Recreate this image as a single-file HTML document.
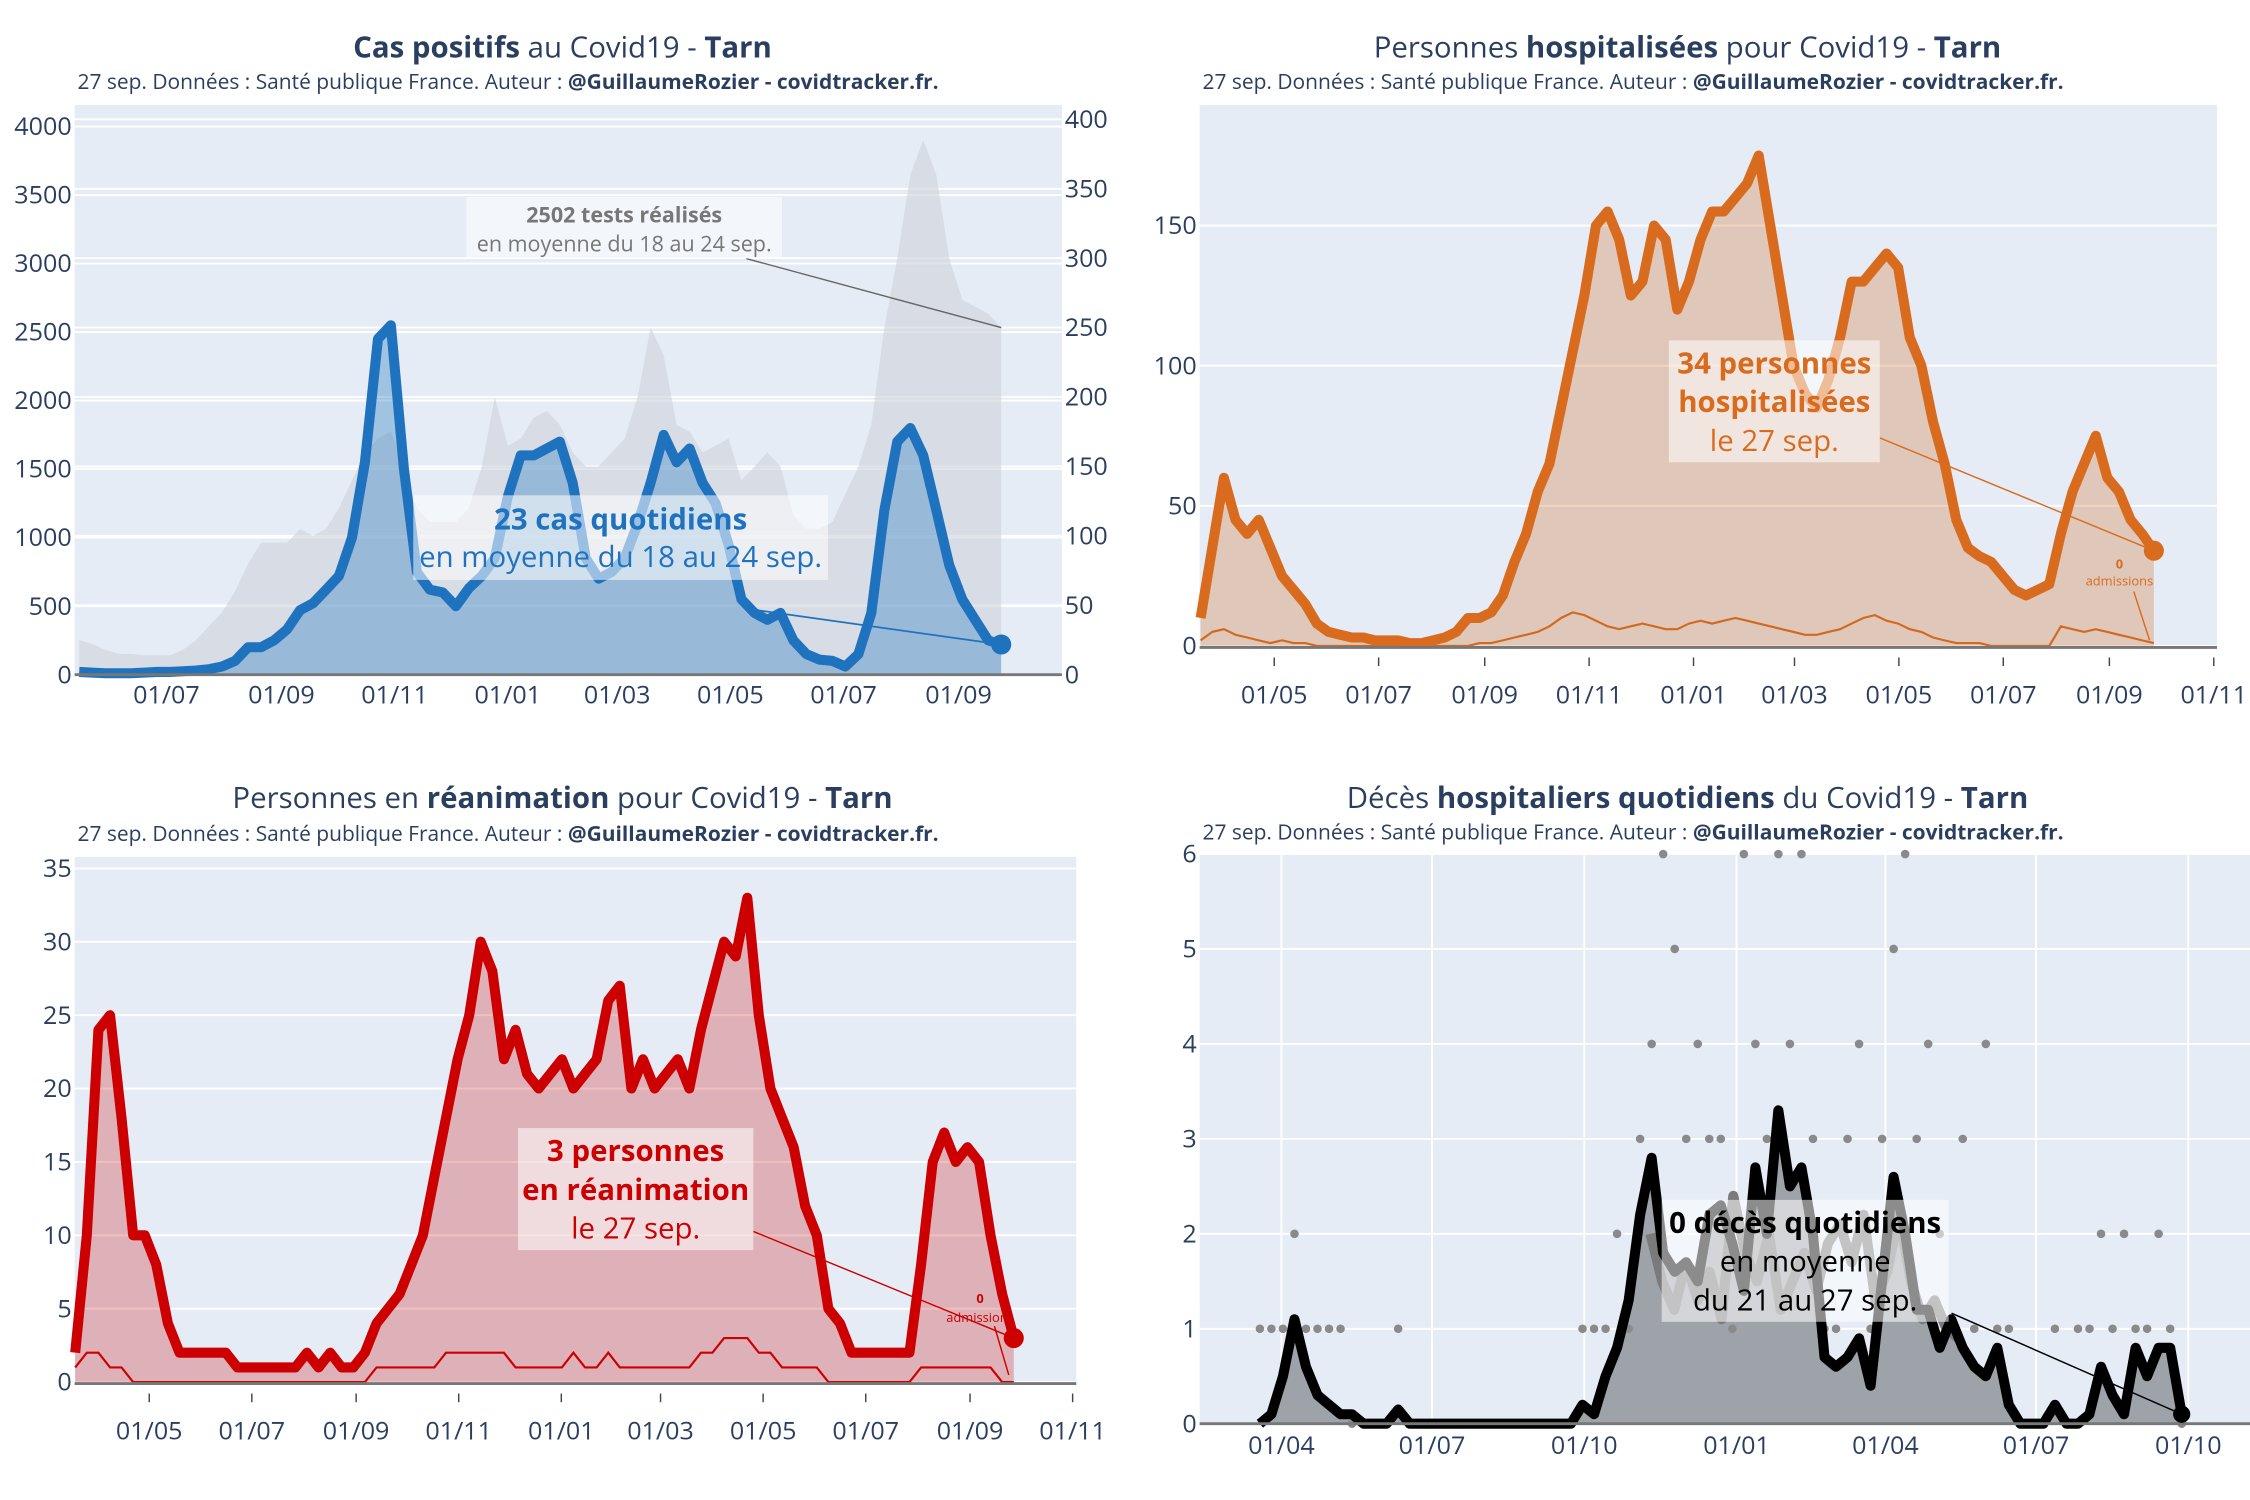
<!DOCTYPE html>
<html><head><meta charset="utf-8">
<style>
html,body{margin:0;padding:0;background:#fff;}
svg{display:block;font-family:"Open Sans","Liberation Sans","DejaVu Sans",sans-serif;}
.tk{fill:#2a3f5f;font-size:17.5px;}
.tt{fill:#2a3f5f;font-size:20.5px;}
.st{fill:#2a3f5f;font-size:14.6px;}
</style></head>
<body>
<svg id="root" width="2250" height="1500" viewBox="0 0 1568 1045" xmlns="http://www.w3.org/2000/svg"></svg>
<script>
// ---------- DATA ----------
// Chart 1: positive cases (weekly samples 2020-05-15 .. 2021-09-24)
const casesStart = "2020-05-15", casesEnd = "2021-09-24";
const casesValues = [20,15,10,10,10,15,20,20,25,30,40,60,100,200,200,250,330,470,520,620,720,1000,1550,2450,2550,1500,750,620,600,500,630,720,850,1300,1600,1600,1650,1700,1400,850,700,750,850,1100,1400,1750,1550,1650,1400,1250,950,550,450,400,450,250,150,110,100,60,150,450,1200,1700,1800,1600,1200,800,550,400,250,220];
const testsValues = [25,22,18,15,15,14,14,14,18,25,35,45,60,80,95,95,95,105,100,105,120,140,160,170,175,150,120,110,110,110,120,150,200,165,170,185,190,180,160,150,150,160,170,200,250,230,180,175,160,165,170,140,150,160,150,115,105,105,110,130,150,180,250,300,360,385,360,300,270,265,260,250];
const casesTicksLeft = [0,500,1000,1500,2000,2500,3000,3500,4000];
const casesTicksRight = [0,50,100,150,200,250,300,350,400];
const casesDateTicks = ["2020-07-01","2020-09-01","2020-11-01","2021-01-01","2021-03-01","2021-05-01","2021-07-01","2021-09-01"];
// Chart 2: hospitalised
const hospStart = "2020-03-19", hospEnd = "2021-09-27";
const hospValues = [10,35,60,45,40,45,35,25,20,15,8,5,4,3,3,2,2,2,1,1,2,3,5,10,10,12,18,30,40,55,65,85,105,125,150,155,145,125,130,150,145,120,130,145,155,155,160,165,175,150,125,100,90,85,95,110,130,130,135,140,135,110,100,80,65,45,35,32,30,25,20,18,20,22,40,55,65,75,60,55,45,40,34];
const hospAdmissions = [2,5,6,4,3,2,1,2,1,1,0,0,0,0,0,0,0,0,0,0,0,0,0,0,1,1,2,3,4,5,7,10,12,11,9,7,6,7,8,7,6,6,8,9,8,9,10,9,8,7,6,5,4,4,5,6,8,10,11,9,8,6,5,3,2,1,1,1,0,0,0,0,0,0,7,6,5,6,5,4,3,2,1];
const hospTicksY = [0,50,100,150];
const hospDateTicks = ["2020-05-01","2020-07-01","2020-09-01","2020-11-01","2021-01-01","2021-03-01","2021-05-01","2021-07-01","2021-09-01","2021-11-01"];
// Chart 3: ICU
const reaStart = "2020-03-18", reaEnd = "2021-09-27";
const reaValues = [2,10,24,25,18,10,10,8,4,2,2,2,2,2,1,1,1,1,1,1,2,1,2,1,1,2,4,5,6,8,10,14,18,22,25,30,28,22,24,21,20,21,22,20,21,22,26,27,20,22,20,21,22,20,24,27,30,29,33,25,20,18,16,12,10,5,4,2,2,2,2,2,2,8,15,17,15,16,15,10,6,3];
const reaAdmissions = [1,2,2,1,1,0,0,0,0,0,0,0,0,0,0,0,0,0,0,0,0,0,0,0,0,0,1,1,1,1,1,1,2,2,2,2,2,2,1,1,1,1,1,2,1,1,2,1,1,1,1,1,1,1,2,2,3,3,3,2,2,1,1,1,1,0,0,0,0,0,0,0,0,1,1,1,1,1,1,1,0,0];
const reaTicksY = [0,5,10,15,20,25,30,35];
const reaDateTicks = ["2020-05-01","2020-07-01","2020-09-01","2020-11-01","2021-01-01","2021-03-01","2021-05-01","2021-07-01","2021-09-01","2021-11-01"];
// Chart 4: deaths
const decStart = "2020-03-19", decEnd = "2021-09-27";
const decAvg = [0,0.1,0.5,1.1,0.6,0.3,0.2,0.1,0.1,0,0,0,0.15,0,0,0,0,0,0,0,0,0,0,0,0,0,0,0,0.2,0.1,0.5,0.8,1.3,2.2,2.8,1.8,1.6,1.7,1.5,2.2,2.3,1.9,1.4,2.7,2.0,3.3,2.5,2.7,2.0,0.7,0.6,0.7,0.9,0.4,1.5,2.6,2.0,1.2,1.2,0.8,1.1,0.8,0.6,0.5,0.8,0.2,0,0,0,0.2,0,0,0.1,0.6,0.3,0.1,0.8,0.5,0.8,0.8,0.1];
const decDaily = [1,1,1,2,1,1,1,1,0,0,0,0,1,0,0,0,0,0,0,0,0,0,0,0,0,0,0,0,1,1,1,2,1,3,4,6,5,3,4,3,3,1,6,4,3,6,4,6,3,1,1,3,4,1,3,5,6,3,4,2,1,3,1,4,1,1,0,0,0,1,0,1,1,2,1,2,1,1,2,1,0];
const decGreyStart = "2020-11-10", decGreyEnd = "2021-05-15";
const decGreyValues = [2,1.5,1.2,1.7,1.3,1.6,1.1,2.4,1.8,1.5,2.0,1.2,1.5,1.8,1.4,1.9,2.1,1.7,2.2,1.3,1.6,2.2,1.5,1.1,1.3,1.0,0.9];
const decTicksY = [0,1,2,3,4,5,6];
const decDateTicks = ["2020-04-01","2020-07-01","2020-10-01","2021-01-01","2021-04-01","2021-07-01","2021-10-01"];

// ---------- HELPERS ----------
const NS = "http://www.w3.org/2000/svg";
const root = document.getElementById("root");
function el(tag, attrs, parent, text){
  const e = document.createElementNS(NS, tag);
  for (const k in attrs) e.setAttribute(k, attrs[k]);
  if (text !== undefined) e.textContent = text;
  (parent || root).appendChild(e);
  return e;
}
function day(s){ return Date.parse(s + "T00:00:00Z") / 86400000; }
function fmtTick(s){ return s.slice(8,10) + "/" + s.slice(5,7); }
function xScale(refA, xA, refB, xB){
  const a = day(refA), b = day(refB);
  return d => xA + (d - a) * (xB - xA) / (b - a);
}
function yScale(v0, y0, v1, y1){ return v => y0 + (v - v0) * (y1 - y0) / (v1 - v0); }
function seriesPts(start, end, vals, X, Y){
  const a = day(start), b = day(end), n = vals.length;
  return vals.map((v, i) => [X(a + (b - a) * i / (n - 1)), Y(v)]);
}
function ptsStr(p){ return p.map(q => q[0].toFixed(1) + "," + q[1].toFixed(1)).join(" "); }
function areaStr(p, yb){ return ptsStr(p) + " " + p[p.length-1][0].toFixed(1) + "," + yb + " " + p[0][0].toFixed(1) + "," + yb; }
function title(cx, y, parts, g){
  const t = el("text", {x: cx, y: y, "text-anchor": "middle", class: "tt"}, g);
  
  
  parts.forEach(p => { el("tspan", p[1] ? {"font-weight": "bold"} : {}, t, p[0]); });
}
function subtitle(x, y, g){
  const t = el("text", {x: x, y: y, class: "st"}, g);
  
  
  el("tspan", {}, t, "27 sep. Données : Santé publique France. Auteur : ");
  el("tspan", {"font-weight": "bold"}, t, "@GuillaumeRozier - covidtracker.fr.");
}
function plotBg(x0, y0, x1, y1, g){
  const r = el("rect", {x: x0, y: y0, width: x1 - x0, height: y1 - y0, fill: "#e5ecf6"}, g);
  
  
}
function yGrid(ticks, Y, x0, x1, labelX, anchor, g, drawLine){
  ticks.forEach(v => {
    if (drawLine) el("line", {x1: x0, x2: x1, y1: Y(v), y2: Y(v), stroke: "#fff", "stroke-width": 1.3}, g);
    const t = el("text", {x: labelX, y: Y(v) + 6, "text-anchor": anchor, class: "tk"}, g, String(v));
    
    
  });
}
function xTicks(ticks, X, y, g, vgrid, gy0, gy1, tickMark){
  ticks.forEach(s => {
    const x = X(day(s));
    if (vgrid) el("line", {x1: x, x2: x, y1: gy0, y2: gy1, stroke: "#fff", "stroke-width": 1.3}, g);
    if (tickMark) el("line", {x1: x, x2: x, y1: tickMark[0], y2: tickMark[1], stroke: "#444", "stroke-width": 1}, g);
    const t = el("text", {x: x, y: y, "text-anchor": "middle", class: "tk"}, g, fmtTick(s));
    
    
  });
}
function annot(x, y, w, h, lines, color, g){
  const r = el("rect", {x: x, y: y, width: w, height: h, fill: "#fff", "fill-opacity": 0.55}, g);
  
  
  lines.forEach(l => {
    const t = el("text", {x: x + w/2, y: y + l[2], "text-anchor": "middle", fill: color, "font-size": l[3] || 20, "font-weight": l[1] ? "bold" : "normal"}, g, l[0]);
    
    
  });
}

// ---------- CHART 1 ----------
{
  const g = el("g", {});
  
  
  title(392, 40, [["Cas positifs", 1], [" au Covid19 - ", 0], ["Tarn", 1]], g);
  subtitle(54, 62, g);
  plotBg(52, 73, 740, 470, g);
  const X = xScale("2020-07-01", 116, "2021-09-01", 668);
  const Y = yScale(0, 470, 4000, 88);
  const Yr = yScale(0, 470, 400, 83);
  yGrid(casesTicksLeft, Y, 52, 740, 50, "end", g, true);
  casesTicksRight.forEach(v => el("line", {x1: 52, x2: 740, y1: Yr(v), y2: Yr(v), stroke: "#fff", "stroke-width": 1.3}, g));
  yGrid(casesTicksRight, Yr, 52, 740, 742, "start", g, false);
  const tp = seriesPts(casesStart, casesEnd, testsValues, X, Yr);
  const ta = el("polygon", {points: areaStr(tp, 470), fill: "#cdd2da", "fill-opacity": 0.6}, g);
  
  
  const cp = seriesPts(casesStart, casesEnd, casesValues, X, Y);
  const ca = el("polygon", {points: areaStr(cp, 470), fill: "#3a86c6", "fill-opacity": 0.4}, g);
  
  
  const cl = el("polyline", {points: ptsStr(cp), fill: "none", stroke: "#1f72be", "stroke-width": 7, "stroke-linejoin": "round"}, g);
  
  
  el("line", {x1: 52, x2: 740, y1: 470, y2: 470, stroke: "#777", "stroke-width": 2}, g);
  xTicks(casesDateTicks, X, 490, g, false);
  const last = cp[cp.length - 1];
  el("line", {x1: 520, y1: 180, x2: tp[tp.length-1][0], y2: tp[tp.length-1][1], stroke: "#666", "stroke-width": 1}, g);
  annot(325, 137, 220, 43, [["2502 tests réalisés", 1, 18, 15], ["en moyenne du 18 au 24 sep.", 0, 38, 15]], "#777", g);
  el("line", {x1: 520, y1: 424, x2: last[0], y2: last[1], stroke: "#1f72be", "stroke-width": 1.2}, g);
  annot(288, 345, 289, 59, [["23 cas quotidiens", 1, 24, 20.5], ["en moyenne du 18 au 24 sep.", 0, 50, 20.5]], "#1f72be", g);
  const m = el("circle", {cx: last[0], cy: last[1], r: 7, fill: "#1f72be"}, g);
  
  
}

// ---------- CHART 2 ----------
{
  const g = el("g", {});
  
  
  title(1176, 40, [["Personnes ", 0], ["hospitalisées", 1], [" pour Covid19 - ", 0], ["Tarn", 1]], g);
  subtitle(838, 62, g);
  plotBg(836, 73, 1545, 452, g);
  const X = xScale("2020-05-01", 888, "2021-09-01", 1470);
  const Y = yScale(0, 450, 150, 157);
  yGrid(hospTicksY, Y, 836, 1545, 834, "end", g, true);
  const hp = seriesPts(hospStart, hospEnd, hospValues, X, Y);
  const ha = el("polygon", {points: areaStr(hp, 450), fill: "#d2691e", "fill-opacity": 0.28}, g);
  
  
  const ap = seriesPts(hospStart, hospEnd, hospAdmissions, X, Y);
  const al = el("polyline", {points: ptsStr(ap), fill: "none", stroke: "#d2691e", "stroke-width": 1.5}, g);
  
  
  const hl = el("polyline", {points: ptsStr(hp), fill: "none", stroke: "#d96b1e", "stroke-width": 7, "stroke-linejoin": "round"}, g);
  
  
  el("line", {x1: 836, x2: 1545, y1: 451, y2: 451, stroke: "#777", "stroke-width": 2}, g);
  xTicks(hospDateTicks, X, 490, g, false, 0, 0, [458, 464]);
  const last = hp[hp.length - 1];
  el("line", {x1: 1310, y1: 305, x2: last[0], y2: last[1], stroke: "#d96b1e", "stroke-width": 1}, g);
  el("line", {x1: 1487, y1: 412, x2: 1498, y2: 446, stroke: "#d96b1e", "stroke-width": 1}, g);
  annot(1163, 237, 147, 85, [["34 personnes", 1, 23, 20.5], ["hospitalisées", 1, 50, 20.5], ["le 27 sep.", 0, 77, 20.5]], "#d96b1e", g);
  const a1 = el("text", {x: 1477, y: 396, "text-anchor": "middle", fill: "#d96b1e", "font-size": 9, "font-weight": "bold"}, g, "0");
  
  
  const a2 = el("text", {x: 1477, y: 408, "text-anchor": "middle", fill: "#d96b1e", "font-size": 9}, g, "admissions");
  
  
  const m = el("circle", {cx: last[0], cy: last[1], r: 7, fill: "#d96b1e"}, g);
  
  
}

// ---------- CHART 3 ----------
{
  const g = el("g", {});
  
  
  title(392, 563, [["Personnes en ", 0], ["réanimation", 1], [" pour Covid19 - ", 0], ["Tarn", 1]], g);
  subtitle(54, 586, g);
  plotBg(52, 597, 750, 964, g);
  const X = xScale("2020-05-01", 104, "2021-09-01", 676);
  const Y = yScale(0, 963, 35, 605);
  yGrid(reaTicksY, Y, 52, 750, 50, "end", g, true);
  const rp = seriesPts(reaStart, reaEnd, reaValues, X, Y);
  const ra = el("polygon", {points: areaStr(rp, 963), fill: "#cc0000", "fill-opacity": 0.25}, g);
  
  
  const ap = seriesPts(reaStart, reaEnd, reaAdmissions, X, Y);
  const al = el("polyline", {points: ptsStr(ap), fill: "none", stroke: "#cc0000", "stroke-width": 1.5}, g);
  
  
  const rl = el("polyline", {points: ptsStr(rp), fill: "none", stroke: "#cc0000", "stroke-width": 7, "stroke-linejoin": "round"}, g);
  
  
  el("line", {x1: 52, x2: 750, y1: 964, y2: 964, stroke: "#777", "stroke-width": 2}, g);
  xTicks(reaDateTicks, X, 1003, g, false, 0, 0, [971, 977]);
  const last = rp[rp.length - 1];
  el("line", {x1: 525, y1: 858, x2: last[0], y2: last[1], stroke: "#cc0000", "stroke-width": 1}, g);
  el("line", {x1: 693, y1: 924, x2: 703, y2: 958, stroke: "#cc0000", "stroke-width": 1}, g);
  annot(361, 786, 164, 85, [["3 personnes", 1, 23, 20.5], ["en réanimation", 1, 50, 20.5], ["le 27 sep.", 0, 77, 20.5]], "#cc0000", g);
  const a1 = el("text", {x: 683, y: 908, "text-anchor": "middle", fill: "#cc0000", "font-size": 9, "font-weight": "bold"}, g, "0");
  
  
  const a2 = el("text", {x: 683, y: 921, "text-anchor": "middle", fill: "#cc0000", "font-size": 9}, g, "admissions");
  
  
  const m = el("circle", {cx: last[0], cy: last[1], r: 7, fill: "#cc0000"}, g);
  
  
}

// ---------- CHART 4 ----------
{
  const g = el("g", {});
  
  
  title(1176, 563, [["Décès ", 0], ["hospitaliers quotidiens", 1], [" du Covid19 - ", 0], ["Tarn", 1]], g);
  subtitle(838, 585, g);
  plotBg(836, 595, 1568, 993, g);
  const X = xScale("2020-04-01", 893, "2021-10-01", 1525);
  const Y = yScale(0, 992, 6, 595);
  yGrid(decTicksY, Y, 836, 1568, 834, "end", g, true);
  xTicks(decDateTicks, X, 1013, g, true, 595, 992);
  const dp = seriesPts(decStart, decEnd, decAvg, X, Y);
  const da = el("polygon", {points: areaStr(dp, 992), fill: "#9ea2a9"}, g);
  
  
  const gp = seriesPts(decGreyStart, decGreyEnd, decGreyValues, X, Y);
  const gl = el("polyline", {points: ptsStr(gp), fill: "none", stroke: "#7a7a7a", "stroke-width": 7, "stroke-linejoin": "round"}, g);
  
  
  const pts = seriesPts(decStart, decEnd, decDaily, X, Y);
  pts.forEach(p => {
    const c = el("circle", {cx: p[0], cy: p[1], r: 3, fill: "#8a8a8a"}, g);
    
    
  });
  const dl = el("polyline", {points: ptsStr(dp), fill: "none", stroke: "#000", "stroke-width": 7, "stroke-linejoin": "round"}, g);
  
  
  el("line", {x1: 836, x2: 1568, y1: 992, y2: 992, stroke: "#777", "stroke-width": 2}, g);
  const last = dp[dp.length - 1];
  el("line", {x1: 1360, y1: 915, x2: last[0], y2: last[1], stroke: "#000", "stroke-width": 1}, g);
  annot(1158, 836, 200, 85, [["0 décès quotidiens", 1, 23, 20.5], ["en moyenne", 0, 50, 20.5], ["du 21 au 27 sep.", 0, 77, 20.5]], "#000", g);
  const m = el("circle", {cx: last[0], cy: last[1], r: 6, fill: "#000"}, g);
  
  
}
</script>
</body></html>
